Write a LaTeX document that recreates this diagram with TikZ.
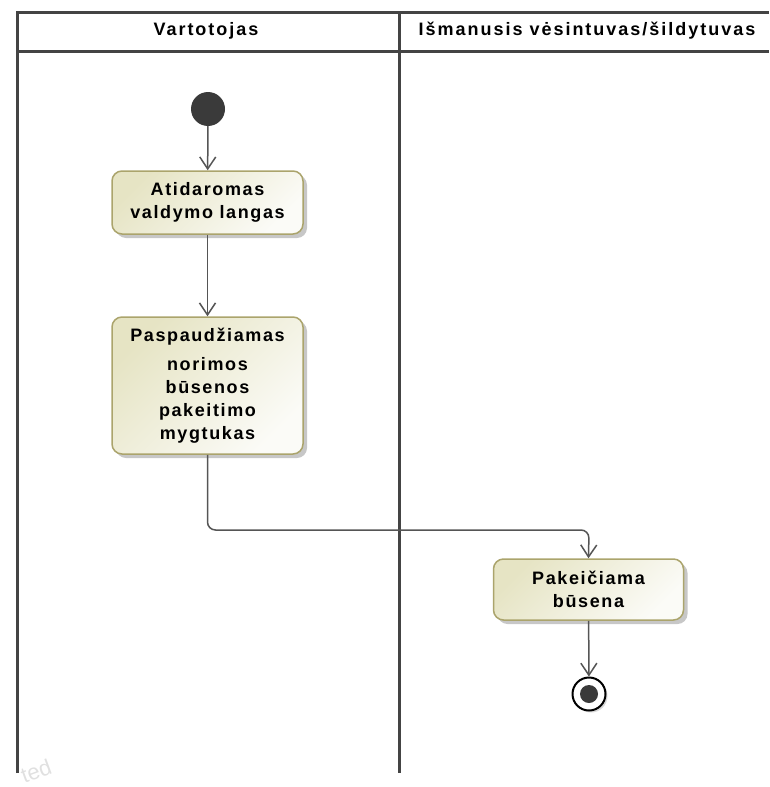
\documentclass[tikz,border=0pt]{standalone}
\usepackage{fontspec}
\setmainfont{Liberation Sans}
\newfontfamily\lanefont[LetterSpace=9]{Liberation Sans}
\newfontfamily\headfont[LetterSpace=11]{Liberation Sans}
\usetikzlibrary{arrows.meta,shadows}
\definecolor{laneline}{HTML}{444444}
\definecolor{connline}{HTML}{555555}
\definecolor{actborder}{HTML}{ABA46C}
\definecolor{actdark}{HTML}{E6E4C4}
\definecolor{actlight}{HTML}{FBFBF7}
\definecolor{dotfill}{HTML}{3A3A3A}
\tikzset{
  lane/.style={draw=laneline, line width=3pt},
  conn/.style={draw=connline, line width=1.5pt, -{Straight Barb[length=12pt,width=16pt]}},
  action/.style={rectangle, rounded corners=10pt, draw=actborder, line width=1.5pt,
    top color=actdark, bottom color=actlight, shading angle=45,
    drop shadow={fill=black!40, opacity=.55, shadow xshift=4pt, shadow yshift=-4pt},
    inner sep=0pt, align=center, font=\lanefont\bfseries\fontsize{18}{23}\selectfont},
  head/.style={font=\headfont\bfseries\fontsize{18}{22}\selectfont, inner sep=0pt},
  startdot/.style={circle, fill=dotfill, minimum size=34pt, inner sep=0pt},
  endring/.style={circle, draw=black, line width=2pt, fill=white, minimum size=33pt, inner sep=0pt,
    drop shadow={fill=black!30, opacity=.5, shadow xshift=2pt, shadow yshift=-2pt}},
  enddot/.style={circle, fill=dotfill, minimum size=18pt, inner sep=0pt}
}
\begin{document}
\begin{tikzpicture}[x=1pt,y=-1pt]
\useasboundingbox (0,0) rectangle (769,787);
% swimlanes
\coordinate (tl) at (17,12);
\coordinate (tr) at (769,12);
\coordinate (hl) at (17,51);
\coordinate (hr) at (769,51);
\coordinate (bl) at (17,773);
\coordinate (mt) at (399,12);
\coordinate (mb) at (399,773);
\draw[lane] (bl) -- (tl) -- (tr);
\draw[lane] (hl) -- (hr);
\draw[lane] (mt) -- (mb);
\node[head] (h1) at (206,31) {Vartotojas};
\node[head] (h2) at (587,31) {Išmanusis vėsintuvas/šildytuvas};
% nodes
\node[startdot] (start) at (208,109) {};
\node[action, minimum width=191pt, minimum height=63pt] (n1) at (207.5,202.5) {Atidaromas\\valdymo langas};
\node[action, minimum width=191pt, minimum height=137pt] (n2) at (207.5,385.5) {Paspaudžiamas\\[6pt]norimos\\būsenos\\pakeitimo\\mygtukas};
\node[action, minimum width=190pt, minimum height=61pt] (n3) at (588.5,589.5) {Pakeičiama\\būsena};
\node[endring] (end) at (589,694) {};
\node[enddot] (enddot) at (end.center) {};
% connectors
\coordinate (j) at (589,530);
\draw[conn] (start) -- (n1);
\draw[conn] (n1) -- (n2);
\draw[conn, rounded corners=8pt] (n2.south) |- (j) -- (n3.north);
\draw[conn] (n3) -- (end);
% watermark
\node[text=black!12, font=\fontsize{22}{22}\selectfont, rotate=20, inner sep=0pt] (wm) at (36,771) {ted};
\end{tikzpicture}
\end{document}
